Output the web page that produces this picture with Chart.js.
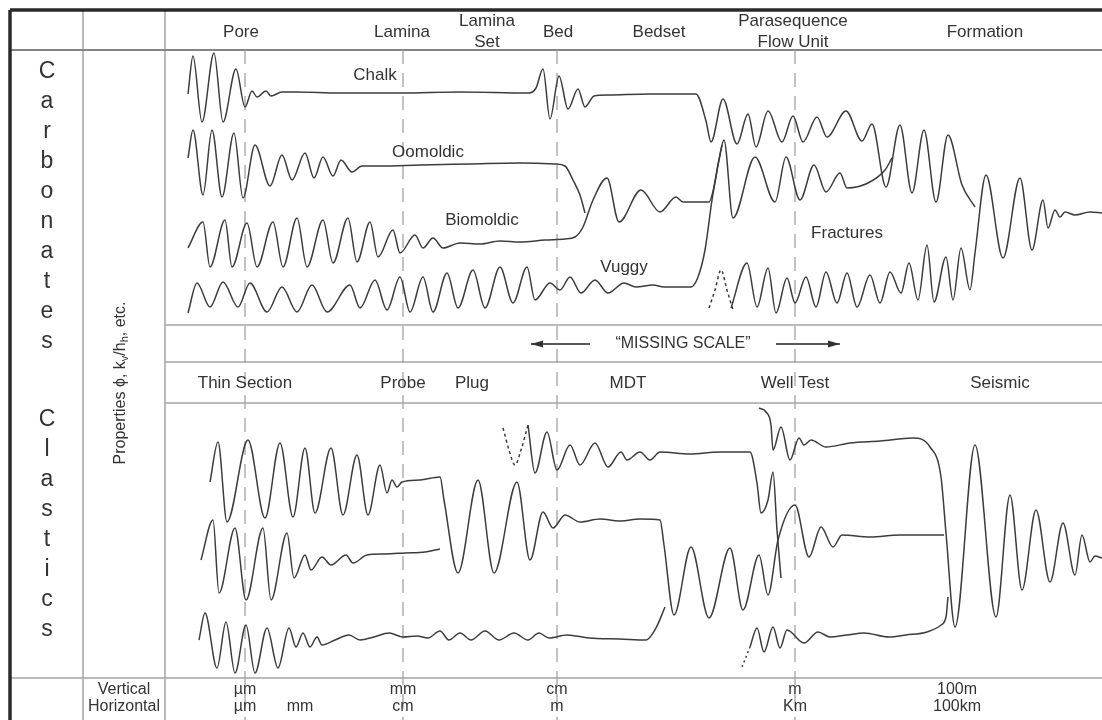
<!DOCTYPE html>
<html>
<head>
<meta charset="utf-8">
<script src="https://cdn.jsdelivr.net/npm/chart.js@4.4.1/dist/chart.umd.min.js"></script>
<style>
  html, body { margin: 0; padding: 0; background: #fff; }
  #wrap { width: 1102px; height: 720px; }
</style>
</head>
<body>
<div id="wrap"><canvas id="scaleChart" width="1102" height="720"></canvas></div>
<script>
// each trace is a list of [scale position, property] pairs
const chalk = [[188,94],[193,56],[202,122],[214,53],[223,122],[236,69],[245,107],[252,91],[257,97],[266,91],[271,96],[282,92],[296,92],[340,93],[400,93],[460,92],[529,93],[536,88],[543,69],[550,119],[559,76],[568,109],[578,89],[585,107],[594,96],[609,95],[650,94],[696,94],[706,121],[711,142],[723,99],[737,144],[748,114],[756,147],[768,111],[782,142],[793,116],[803,142],[817,117],[827,137],[846,111],[862,141],[872,124],[886,187],[900,125],[912,193],[924,130],[936,202],[948,135],[962,185],[975,207]];
const oomoldic = [[188,158],[193,130],[203,195],[212,130],[222,197],[234,133],[243,198],[255,145],[270,186],[282,155],[292,180],[305,153],[314,178],[323,157],[333,176],[341,160],[352,172],[362,166],[380,166],[420,165],[470,164],[520,163],[555,164],[565,166],[573,180],[580,195],[585,213]];
const biomoldic = [[188,248],[203,222],[210,267],[225,220],[232,267],[247,223],[257,267],[273,222],[283,267],[297,218],[307,267],[323,220],[333,263],[348,218],[357,262],[370,222],[378,257],[393,230],[400,253],[415,235],[423,248],[433,238],[443,248],[460,243],[480,244],[500,241],[520,242],[545,240],[565,239],[575,237],[583,227],[593,200],[607,178],[619,222],[641,190],[660,212],[676,197],[683,202],[709,202],[714,187],[719,160],[724,140],[733,218],[755,157],[775,202],[786,157],[800,200],[814,165],[826,192],[840,173],[847,188],[868,183],[885,170],[892,158]];
const vuggy = [[188,313],[197,283],[210,307],[223,282],[238,307],[250,283],[267,312],[282,287],[297,312],[312,285],[327,312],[350,285],[360,308],[375,280],[387,310],[400,277],[410,312],[423,277],[433,312],[447,273],[458,308],[473,270],[485,308],[500,267],[513,303],[527,267],[535,300],[550,283],[560,290],[570,277],[581,293],[595,280],[608,293],[624,283],[636,287],[653,285],[664,287],[691,287],[698,277],[705,250],[712,200],[717,170],[722,145]];
const fracturesLead = [[709,308],[715,290],[721,270],[727,290],[733,310]];
const fractures = [[731,308],[747,263],[757,307],[768,268],[776,313],[787,278],[795,303],[806,277],[816,307],[826,272],[837,303],[847,273],[857,307],[870,275],[880,303],[890,272],[901,293],[909,263],[918,300],[927,245],[934,302],[946,257],[953,300],[961,248],[970,290],[975,253],[986,175],[1003,258],[1020,178],[1032,250],[1043,200],[1048,228],[1055,210],[1060,217],[1065,212],[1075,215],[1090,212],[1102,213]];

const thinSection = [[210,482],[218,442],[227,522],[248,440],[265,518],[280,443],[293,517],[305,448],[315,513],[331,448],[343,515],[357,455],[368,515],[380,465],[387,493],[392,480],[397,487],[402,482],[420,480],[440,477],[444,500],[458,573],[478,480],[494,573],[517,482],[530,560],[543,512],[553,528],[565,515],[580,522],[600,519],[620,521],[640,519],[660,520],[664,545],[674,615],[691,547],[709,618],[730,548],[743,610],[759,555],[768,595],[778,540],[795,505],[809,557],[821,527],[833,547],[842,535],[870,537],[900,535],[944,535]];
const probe = [[201,560],[213,520],[219,593],[235,528],[246,600],[263,528],[271,600],[287,533],[294,578],[305,555],[311,570],[322,557],[331,565],[346,555],[353,563],[367,555],[385,554],[405,553],[425,552],[440,549]];
const plugLow = [[199,640],[205,613],[217,668],[226,622],[235,673],[246,625],[255,673],[267,628],[278,668],[289,628],[296,647],[303,633],[310,647],[317,637],[322,645],[335,640],[349,635],[360,640],[374,637],[389,633],[403,637],[417,636],[428,638],[440,631],[449,640],[460,633],[471,640],[485,631],[499,640],[514,633],[528,640],[539,633],[549,638],[567,635],[589,638],[620,639],[646,640],[656,628],[665,607]];
const mdtLead = [[503,428],[509,450],[515,465],[521,450],[528,425]];
const mdt = [[528,425],[535,473],[547,432],[557,470],[570,445],[580,465],[595,443],[608,467],[621,452],[627,460],[640,452],[650,460],[660,452],[690,454],[720,452],[750,452],[757,483],[761,513],[768,500],[773,472],[777,530],[781,578]];
const seismic = [[759,408],[766,412],[771,425],[773,450],[781,427],[790,460],[799,438],[804,445],[811,440],[826,447],[850,443],[880,441],[913,438],[930,447],[941,477],[946,533],[955,627],[975,445],[996,617],[1010,495],[1022,590],[1036,510],[1050,582],[1063,523],[1075,575],[1082,535],[1090,562],[1095,556],[1102,558]];
const wellTestLead = [[742,667],[746,657],[750,647]];
const wellTest = [[750,647],[757,628],[764,652],[773,627],[780,648],[787,630],[804,643],[818,632],[830,637],[847,635],[864,633],[889,637],[906,635],[927,632],[941,625],[946,617],[948,597]];

// text
const scaleNames = ['Pore', 'Lamina', 'Lamina\nSet', 'Bed', 'Bedset', 'Parasequence\nFlow Unit', 'Formation'];
const toolNames = ['Thin Section', 'Probe', 'Plug', 'MDT', 'Well Test', 'Seismic'];
const poreTypes = ['Chalk', 'Oomoldic', 'Biomoldic', 'Vuggy', 'Fractures'];
const verticalUnits = ['µm', 'mm', 'cm', 'm', '100m'];
const horizontalUnits = ['µm', 'mm', 'cm', 'm', 'Km', '100km'];

// layout
const scaleNameX = [241, 402, 487, 558, 659, 793, 985];
const toolNameX = [245, 403, 472, 628, 795, 1000];
const poreTypePos = [[375, 75], [428, 152], [482, 220], [624, 267], [847, 233]];
const verticalUnitX = [245, 403, 557, 795, 957];
const horizontalUnitX = [245, 300, 403, 557, 795, 957];
const markerX = [245, 403, 557, 795];

const ink = '#3c3c3c';
const rule = '#a4a4a4';
const FONT = '"Liberation Sans", Arial, sans-serif';

function trace(points, dash) {
  return {
    data: points.map(p => ({ x: p[0], y: p[1] })),
    borderColor: ink,
    borderWidth: 1.5,
    borderDash: dash || [],
    pointRadius: 0,
    cubicInterpolationMode: 'monotone',
    fill: false
  };
}

const tableGrid = {
  id: 'tableGrid',
  beforeDatasetsDraw(chart) {
    const { ctx, scales: { x, y } } = chart;
    const X = v => x.getPixelForValue(v), Y = v => y.getPixelForValue(v);
    const seg = (x1, y1, x2, y2) => { ctx.beginPath(); ctx.moveTo(X(x1), Y(y1)); ctx.lineTo(X(x2), Y(y2)); ctx.stroke(); };
    ctx.save();
    ctx.fillStyle = '#fff';
    ctx.fillRect(0, 0, chart.width, chart.height);

    ctx.strokeStyle = rule;
    ctx.lineWidth = 1.5;
    seg(83, 10, 83, 720);
    seg(165, 10, 165, 720);
    seg(10, 678, 1102, 678);
    [325, 362, 403].forEach(v => seg(165, v, 1102, v));
    ctx.strokeStyle = '#858585';
    ctx.lineWidth = 2;
    seg(10, 50, 1102, 50);

    // scale markers
    ctx.strokeStyle = '#9a9a9a';
    ctx.lineWidth = 1.2;
    ctx.setLineDash([14, 9]);
    markerX.forEach(v => seg(v, 50, v, 720));
    ctx.setLineDash([]);

    // outer frame
    ctx.strokeStyle = '#2a2a2a';
    ctx.lineWidth = 3.5;
    seg(10, 10, 1102, 10);
    seg(10, 10, 10, 720);
    ctx.restore();
  },
  afterDatasetsDraw(chart) {
    const { ctx, scales: { x, y } } = chart;
    const X = v => x.getPixelForValue(v), Y = v => y.getPixelForValue(v);
    ctx.save();
    ctx.fillStyle = '#333';
    ctx.textAlign = 'center';
    ctx.textBaseline = 'middle';
    const put = (s, px, py, size) => { ctx.font = size + 'px ' + FONT; ctx.fillText(s, X(px), Y(py)); };

    scaleNames.forEach((s, i) => {
      const lines = s.split('\n');
      if (lines.length === 1) put(s, scaleNameX[i], 32, 17);
      else { put(lines[0], scaleNameX[i], 21, 17); put(lines[1], scaleNameX[i], 42, 17); }
    });
    toolNames.forEach((s, i) => put(s, toolNameX[i], 383, 17));
    poreTypes.forEach((s, i) => put(s, poreTypePos[i][0], poreTypePos[i][1], 17));
    verticalUnits.forEach((s, i) => put(s, verticalUnitX[i], 690, 16));
    horizontalUnits.forEach((s, i) => put(s, horizontalUnitX[i], 707, 16));
    put('Vertical', 124, 690, 16);
    put('Horizontal', 124, 707, 16);

    'Carbonates'.split('').forEach((c, i) => put(c, 47, 72 + i * 30, 23));
    'Clastics'.split('').forEach((c, i) => put(c, 47, 420 + i * 30, 23));

    // missing scale arrows
    put('\u201CMISSING SCALE\u201D', 683, 344, 16);
    ctx.strokeStyle = '#222';
    ctx.lineWidth = 1.3;
    const arrow = (from, to) => {
      ctx.beginPath(); ctx.moveTo(X(from), Y(344)); ctx.lineTo(X(to), Y(344)); ctx.stroke();
      const d = Math.sign(to - from);
      ctx.beginPath();
      ctx.moveTo(X(to), Y(344));
      ctx.lineTo(X(to) - d * 12, Y(344) - 3.5);
      ctx.lineTo(X(to) - d * 12, Y(344) + 3.5);
      ctx.closePath(); ctx.fill();
    };
    arrow(590, 531);
    arrow(776, 840);

    // rotated property label with subscripts
    ctx.translate(X(121), Y(383));
    ctx.rotate(-Math.PI / 2);
    ctx.textAlign = 'left';
    ctx.textBaseline = 'middle';
    const parts = [['Properties \u03D5, k', 16, 0], ['v', 11, 4], ['/h', 16, 0], ['h', 11, 4], [', etc.', 16, 0]];
    let w = 0;
    parts.forEach(p => { ctx.font = p[1] + 'px ' + FONT; w += ctx.measureText(p[0]).width; });
    let cx = -w / 2;
    parts.forEach(p => {
      ctx.font = p[1] + 'px ' + FONT;
      ctx.fillText(p[0], cx, p[2]);
      cx += ctx.measureText(p[0]).width;
    });
    ctx.restore();
  }
};

new Chart(document.getElementById('scaleChart'), {
  type: 'line',
  data: {
    datasets: [
      trace(chalk), trace(oomoldic), trace(biomoldic), trace(vuggy),
      trace(fracturesLead, [3, 3]), trace(fractures),
      trace(thinSection), trace(probe), trace(plugLow),
      trace(mdtLead, [3, 3]), trace(mdt), trace(seismic),
      trace(wellTestLead, [2, 3]), trace(wellTest)
    ]
  },
  options: {
    responsive: false,
    animation: false,
    devicePixelRatio: 1,
    layout: { padding: 0 },
    plugins: { legend: { display: false }, tooltip: { enabled: false } },
    scales: {
      x: { type: 'linear', min: 0, max: 1102, display: false },
      y: { type: 'linear', min: 0, max: 720, reverse: true, display: false }
    }
  },
  plugins: [tableGrid]
});
</script>
</body>
</html>
